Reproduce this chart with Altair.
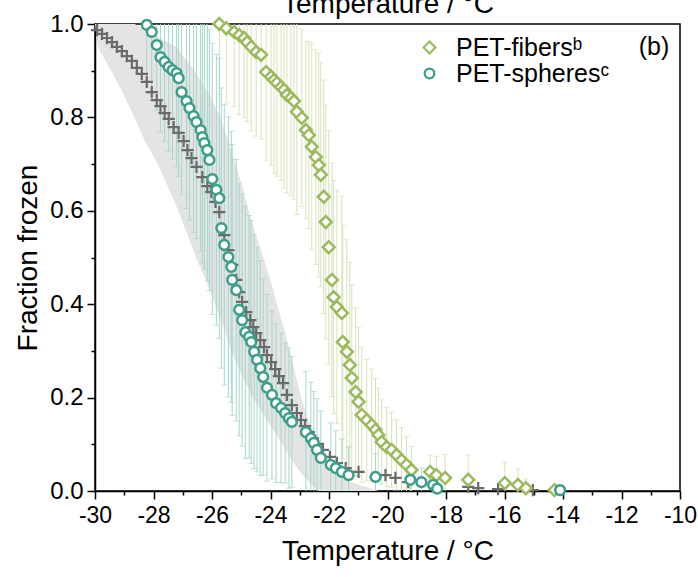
import altair as alt
import pandas as pd

# ---------------- data ----------------
# PET-fibers (open diamonds): temperature (°C), fraction frozen, error
fib_T = [-25.75, -25.51, -25.24, -25.07, -24.90, -24.80, -24.66, -24.49, -24.32, -24.15,
         -23.98, -23.88, -23.78, -23.64, -23.54, -23.44, -23.30, -23.20, -23.10, -22.93,
         -22.79, -22.69, -22.59, -22.45, -22.35, -22.28, -22.18, -22.11, -22.01, -21.90,
         -21.84, -21.73, -21.56, -21.53, -21.39, -21.29, -21.22, -21.09, -20.99, -20.88,
         -20.71, -20.54, -20.41, -20.31, -20.20, -20.03, -19.86, -19.69, -19.52, -19.35,
         -19.18, -18.54, -18.33, -18.03, -17.24, -15.99, -15.54, -15.27, -14.29]
fib_F = [1.000, 0.991, 0.983, 0.976, 0.970, 0.961, 0.951, 0.940, 0.934, 0.897,
         0.887, 0.880, 0.874, 0.865, 0.859, 0.848, 0.842, 0.835, 0.812, 0.799,
         0.773, 0.762, 0.737, 0.715, 0.698, 0.677, 0.630, 0.576, 0.522, 0.452,
         0.415, 0.394, 0.381, 0.319, 0.298, 0.270, 0.242, 0.212, 0.191, 0.163,
         0.152, 0.141, 0.131, 0.120, 0.105, 0.094, 0.088, 0.077, 0.066, 0.056,
         0.045, 0.041, 0.034, 0.028, 0.024, 0.017, 0.013, 0.006, 0.002]
fib_err = [0.15, 0.16, 0.16, 0.17, 0.17, 0.17, 0.18, 0.18, 0.18,
           0.19, 0.19, 0.20, 0.20, 0.20, 0.21, 0.21, 0.21, 0.21,
           0.22, 0.19, 0.19, 0.20, 0.22, 0.23, 0.24, 0.24, 0.25, 0.25, 0.25,
           0.25, 0.25, 0.25, 0.25, 0.25, 0.24, 0.22, 0.20,
           0.18, 0.16, 0.145, 0.13, 0.12, 0.11, 0.10, 0.09,
           0.085, 0.08, 0.075, 0.07, 0.06, 0.05,
           0.036, 0.04, 0.05, 0.053, 0.045, 0.034, 0.02, 0.01]

# PET-spheres (open circles)
sph_T = [-28.23, -28.06, -27.89, -27.76, -27.62, -27.48, -27.35, -27.21, -27.14, -27.04,
         -26.87, -26.77, -26.63, -26.53, -26.39, -26.33, -26.26, -26.16, -26.09, -25.99,
         -25.85, -25.75, -25.68, -25.58, -25.44, -25.34, -25.31, -25.17, -25.07, -24.97,
         -24.86, -24.73, -24.66, -24.56, -24.46, -24.35, -24.25, -24.12, -23.95, -23.81,
         -23.64, -23.50, -23.37, -23.27, -22.79, -22.62, -22.52, -22.41, -22.28, -21.94,
         -21.77, -21.56, -21.33, -20.41, -19.22, -18.84, -18.44, -18.30, -14.10]
sph_F = [0.998, 0.983, 0.955, 0.929, 0.919, 0.908, 0.901, 0.895, 0.884, 0.854,
         0.835, 0.820, 0.803, 0.790, 0.773, 0.758, 0.745, 0.730, 0.709, 0.668,
         0.645, 0.627, 0.563, 0.527, 0.501, 0.480, 0.452, 0.430, 0.388, 0.366,
         0.340, 0.330, 0.319, 0.298, 0.281, 0.263, 0.244, 0.221, 0.206, 0.188,
         0.178, 0.167, 0.156, 0.148, 0.126, 0.113, 0.103, 0.088, 0.071, 0.056,
         0.049, 0.041, 0.034, 0.030, 0.024, 0.019, 0.013, 0.005, 0.002]
sph_err = [0.12, 0.13, 0.14, 0.16, 0.17, 0.18, 0.19, 0.20, 0.21, 0.22,
           0.23, 0.24, 0.25, 0.25, 0.26, 0.27, 0.27, 0.28, 0.28, 0.29,
           0.29, 0.30, 0.30, 0.30, 0.30, 0.29, 0.29, 0.28, 0.27, 0.27,
           0.27, 0.26, 0.26, 0.25, 0.24, 0.23, 0.21, 0.20, 0.18, 0.17,
           0.16, 0.15, 0.15, 0.14, 0.13, 0.12, 0.11, 0.11, 0.10, 0.09,
           0.08, 0.07, 0.06, 0.05, 0.04, 0.03, 0.03, 0.02, 0.01]

# reference series (grey crosses)
ref_T = [-29.93, -29.76, -29.59, -29.42, -29.25, -29.08, -28.91, -28.74, -28.57, -28.40,
         -28.23, -28.06, -27.89, -27.76, -27.62, -27.48, -27.31, -27.14, -26.97, -26.84,
         -26.70, -26.53, -26.33, -26.16, -26.02, -25.88, -25.75, -25.58, -25.44, -25.31,
         -25.17, -25.07, -24.97, -24.83, -24.69, -24.59, -24.49, -24.35, -24.22, -24.12,
         -23.98, -23.84, -23.71, -23.57, -23.44, -23.27, -23.10, -22.96, -22.82, -22.69,
         -22.55, -22.38, -22.21, -21.97, -21.73, -21.43, -20.99, -20.07, -19.73, -19.29,
         -17.24, -16.90, -16.22, -15.03]
ref_F = [0.987, 0.979, 0.970, 0.961, 0.951, 0.942, 0.931, 0.921, 0.906, 0.893,
         0.876, 0.854, 0.837, 0.824, 0.809, 0.797, 0.779, 0.767, 0.749, 0.730,
         0.713, 0.694, 0.672, 0.653, 0.640, 0.619, 0.597, 0.548, 0.516, 0.484,
         0.452, 0.426, 0.405, 0.383, 0.366, 0.351, 0.338, 0.323, 0.308, 0.291,
         0.276, 0.261, 0.246, 0.231, 0.206, 0.184, 0.167, 0.152, 0.139, 0.126,
         0.113, 0.101, 0.088, 0.073, 0.060, 0.049, 0.041, 0.034, 0.028, 0.019,
         0.009, 0.006, 0.004, 0.002]

# grey uncertainty band of the reference series
band_F = [1.0, 0.95, 0.9, 0.85, 0.8, 0.75, 0.7, 0.65, 0.6, 0.55, 0.5,
          0.45, 0.4, 0.35, 0.3, 0.25, 0.2, 0.15, 0.1, 0.05, 0.02, 0.0]
band_Tlo = [-30.0, -29.9, -29.45, -29.03, -28.65, -28.3, -27.85, -27.5, -27.15, -26.85, -26.55,
            -26.2, -25.9, -25.6, -25.35, -25.0, -24.6, -24.1, -23.6, -23.1, -22.7, -22.35]
band_Thi = [-28.64, -27.2, -26.6, -26.1, -25.72, -25.45, -25.2, -24.95, -24.75, -24.5, -24.25,
            -24.0, -23.78, -23.55, -23.33, -23.15, -22.95, -22.7, -22.3, -21.85, -21.3, -20.3]

series_names = ["PET-fibers\u1d47", "PET-spheres\u1d9c"]
x_ticks = list(range(-30, -9))
y_ticks = [round(0.1 * i, 1) for i in range(11)]

# ---------------- styling ----------------
FONT = "Liberation Sans"
TEAL = "#3d9e8b"
OLIVE = "#9bba5d"
GREY = "#6b6b6b"
TEAL_BAR = "#a6d6cb"
OLIVE_BAR = "#d7e2b8"

fib = pd.DataFrame({"T": fib_T, "F": fib_F, "err": fib_err})
fib["series"] = series_names[0]
sph = pd.DataFrame({"T": sph_T, "F": sph_F, "err": sph_err})
sph["series"] = series_names[1]
for d in (fib, sph):
    d["lo"] = d["F"] - d["err"]
    d["hi"] = d["F"] + d["err"]
pts = pd.concat([fib, sph], ignore_index=True)
ref = pd.DataFrame({"T": ref_T, "F": ref_F})
band = pd.DataFrame({"F": band_F, "TL": band_Tlo, "TR": band_Thi})

xs = alt.Scale(domain=[-30, -10], nice=False, zero=False)
ys = alt.Scale(domain=[0, 1], nice=False, zero=False)

x_bottom = alt.Axis(
    values=x_ticks,
    labelExpr="datum.value % 2 == 0 ? '' + datum.value : ''",
    tickSize={"condition": {"test": "datum.value % 2 != 0", "value": 4}, "value": 8},
    tickWidth=1.5, tickColor="black", domainColor="black", domainWidth=1.5,
    labelFont=FONT, labelFontSize=23, labelColor="black", labelPadding=5,
    labelOverlap=False, labelFlush=False, labelBound=False,
    title="Temperature / °C", titleFont=FONT, titleFontSize=28, titleFontWeight="normal",
    titleColor="black", titlePadding=10, grid=False,
)
y_left = alt.Axis(
    values=y_ticks,
    labelExpr="round(datum.value * 10) % 2 == 0 ? format(datum.value, '.1f') : ''",
    tickSize={"condition": {"test": "round(datum.value * 10) % 2 == 1", "value": 4}, "value": 8},
    tickWidth=1.5, tickColor="black", domainColor="black", domainWidth=1.5,
    labelFont=FONT, labelFontSize=24, labelColor="black", labelPadding=4,
    labelOverlap=False, labelFlush=False, labelBound=False,
    title="Fraction frozen", titleFont=FONT, titleFontSize=28, titleFontWeight="normal",
    titleColor="black", titlePadding=7, grid=False,
)
x_top = alt.Axis(
    orient="top", labels=False, ticks=False, domain=False, grid=False,
    title="Temperature / °C", titleFont=FONT, titleFontSize=28, titleFontWeight="normal",
    titleColor="black", titlePadding=6,
)

band_layer = alt.Chart(band).mark_area(orient="horizontal", color="#e4e4e4").encode(
    y=alt.Y("F:Q", scale=ys, axis=None),
    x=alt.X("TL:Q", scale=xs, axis=x_top),
    x2="TR:Q",
)


def error_layers(df, color):
    base = alt.Chart(df)
    xx = alt.X("T:Q", scale=xs, axis=None)
    rule = base.mark_rule(color=color, strokeWidth=1, clip=True).encode(
        x=xx, y=alt.Y("lo:Q", scale=ys, axis=None), y2="hi:Q")
    lo = base.mark_tick(color=color, orient="horizontal", size=6, thickness=1, clip=True).encode(
        x=xx, y=alt.Y("lo:Q", scale=ys, axis=None))
    hi = base.mark_tick(color=color, orient="horizontal", size=6, thickness=1, clip=True).encode(
        x=xx, y=alt.Y("hi:Q", scale=ys, axis=None))
    return [rule, lo, hi]


cross_layer = alt.Chart(ref).mark_point(
    shape="M-1,0L1,0M0,-1L0,1", filled=False, color=GREY, size=150, strokeWidth=2.2, opacity=1
).encode(
    x=alt.X("T:Q", scale=xs, axis=x_bottom),
    y=alt.Y("F:Q", scale=ys, axis=y_left),
)

leg = alt.Legend(
    title=None, orient="none", legendX=322, legendY=11, padding=0,
    labelFont=FONT, labelFontSize=25, labelColor="black", labelOffset=14,
    symbolSize=90, symbolStrokeWidth=2.2, symbolFillColor="white", rowPadding=-2,
)
pt_layer = alt.Chart(pts).mark_point(
    filled=False, fill="white", fillOpacity=1, strokeWidth=2.5, opacity=1
).encode(
    x=alt.X("T:Q", scale=xs, axis=None),
    y=alt.Y("F:Q", scale=ys, axis=None),
    color=alt.Color("series:N", scale=alt.Scale(domain=series_names, range=[OLIVE, TEAL]), legend=leg),
    shape=alt.Shape("series:N", scale=alt.Scale(domain=series_names, range=["diamond", "circle"]), legend=leg),
    size=alt.Size("series:N", scale=alt.Scale(domain=series_names, range=[140, 95]), legend=None),
)

label_b = alt.Chart(pd.DataFrame({"t": ["(b)"]})).mark_text(
    font=FONT, fontSize=25, align="center", baseline="middle", color="black"
).encode(x=alt.value(559), y=alt.value(23), text="t:N")

layers = [band_layer] + error_layers(fib, OLIVE_BAR) + error_layers(sph, TEAL_BAR) + [cross_layer, pt_layer, label_b]

chart = alt.layer(*layers).resolve_axis(x="independent", y="independent").properties(
    width=585, height=467,
    padding={"left": 95, "top": 24, "right": 18, "bottom": 86},
    autosize=alt.AutoSizeParams(type="none"),
    background="white",
).configure_view(stroke="black", strokeWidth=1.5)

chart.save("out.html", embed_options={"renderer": "svg", "actions": False})
